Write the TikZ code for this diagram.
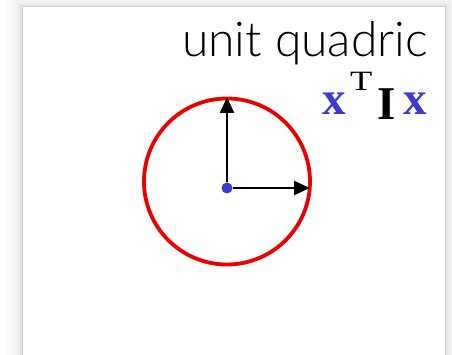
\documentclass[tikz,border=0pt]{standalone}
\usepackage{fontspec}
\usepackage{graphicx}
\usepackage{tikz}
\usetikzlibrary{arrows.meta}
\IfFontExistsTF{Lato Light}{\newfontfamily\labelfont{Lato Light}}{\newfontfamily\labelfont{Lato}}
\newfontfamily\formfont{Liberation Serif}
\definecolor{qblue}{HTML}{3C3CCC}
\definecolor{qred}{HTML}{EE0000}

\begin{document}
\begin{tikzpicture}[x=1pt,y=-1pt,
  axis/.style={-{Triangle[length=16pt,width=14pt]},line width=2.2pt},
  glyph/.style={inner sep=0,anchor=base west,font=\formfont\bfseries\fontsize{47}{47}\selectfont}]
\useasboundingbox (0,0) rectangle (452,355);
% panel with soft shadow
\fill[white] (0,0) rectangle (452,355);
\foreach \d/\c in {16/2,11/3,7/5,4/8,2/12}
  \fill[black!\c] (22-\d,7-\d) rectangle (445+\d,355);
\fill[white] (22,7) rectangle (445,355);
\draw[black!18,line width=1pt] (22,355)--(22,7)--(445,7)--(445,355);
% labels
\node[inner sep=0,anchor=base east,font=\labelfont\fontsize{48}{48}\selectfont] (title) at (428,57) {unit quadric};
\node[glyph,text=qblue] (xa) at (322,115) {x};
\node[inner sep=0,anchor=base west,font=\formfont\fontsize{28}{28}\selectfont] (tr) at (350,91) {\scalebox{1.3}[1]{T}};
\node[glyph] (eye) at (377,120) {I};
\node[glyph,text=qblue] (xb) at (403,115) {x};
% unit circle and axes
\node[draw=qred,line width=3.8pt,circle,inner sep=0,minimum size=166pt] (ring) at (227,181.5) {};
\node[circle,fill=qblue,inner sep=0,minimum size=11pt] (o) at (227,188) {};
\coordinate (ytip) at (227,97);
\coordinate (xtip) at (310,188);
\draw[axis] (o) -- (ytip);
\draw[axis] (o) -- (xtip);
\end{tikzpicture}
\end{document}
